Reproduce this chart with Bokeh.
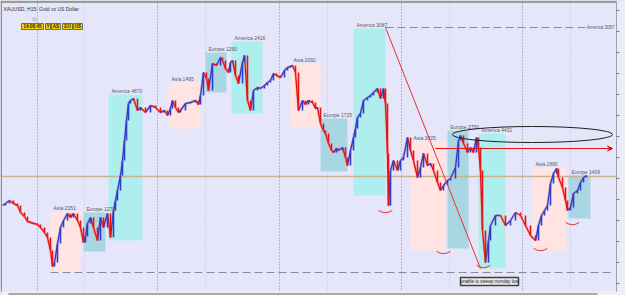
from bokeh.plotting import figure
from bokeh.models import Range1d, ColumnDataSource, Arrow, VeeHead, Label
from bokeh.core.properties import value
from bokeh.embed import file_html
from bokeh.resources import INLINE

# ---- price path (time position, price level) ----
bar_x = [2, 5, 9, 13, 17, 20, 24, 27, 30, 33, 37, 40, 44, 47, 50, 52, 54, 57, 60, 63,
         67, 70, 73, 77, 80, 83, 85, 87, 90, 93, 97, 100, 103, 107, 110, 113, 115, 117, 120, 122,
         124, 126, 128, 130, 133, 137, 140, 145, 150, 155, 160, 164, 167, 170, 172, 175, 178, 180, 185, 190,
         195, 198, 200, 203, 206, 208, 212, 216, 220, 222, 225, 228, 230, 232, 235, 238, 242, 244, 247, 250,
         253, 257, 260, 264, 267, 270, 273, 276, 280, 284, 287, 290, 292, 295, 298, 302, 305, 308, 312, 315,
         317, 320, 323, 325, 328, 331, 333, 336, 338, 342, 345, 347, 350, 353, 355, 357, 360, 363, 367, 370,
         373, 377, 380, 383, 385, 387, 388, 390, 393, 397, 400, 403, 407, 410, 413, 417, 420, 423, 427, 430,
         433, 437, 440, 443, 447, 450, 455, 458, 460, 463, 467, 470, 473, 476, 478, 480, 482, 485, 488, 490,
         495, 500, 505, 510, 515, 520, 525, 530, 535, 538, 541, 544, 547, 550, 553, 556, 558, 562, 565, 567,
         570, 573, 577, 580, 583, 586]
close = [95, 97, 100, 97, 95, 88, 84, 79, 78, 77, 76, 73, 68, 63, 50, 34, 38, 57, 73, 80,
         87, 83, 87, 80, 73, 58, 64, 77, 83, 73, 60, 83, 73, 87, 63, 90, 100, 110, 125, 140,
         160, 180, 197, 200, 202, 190, 193, 188, 195, 193, 188, 190, 185, 192, 200, 193, 188, 190, 197, 198,
         200, 196, 205, 228, 222, 210, 237, 235, 243, 240, 232, 228, 238, 240, 225, 217, 238, 245, 200, 190,
         210, 213, 212, 215, 218, 220, 227, 225, 223, 230, 233, 234, 235, 228, 190, 200, 196, 200, 198, 192,
         193, 177, 170, 167, 157, 150, 148, 152, 150, 153, 143, 135, 150, 163, 172, 183, 187, 200, 203, 205,
         208, 212, 202, 212, 197, 147, 95, 130, 140, 130, 140, 143, 163, 150, 140, 123, 133, 147, 135, 137,
         130, 118, 110, 115, 120, 122, 133, 160, 165, 157, 148, 153, 148, 163, 153, 130, 70, 38, 60, 75,
         85, 85, 75, 80, 88, 85, 75, 65, 60, 75, 85, 90, 95, 117, 127, 132, 123, 113, 100, 90,
         93, 107, 110, 118, 123, 125]

# ---- trading sessions ----
sess_name = ["Asia 2051", "Europe 1270", "America 4870", "Asia 1495", "Europe 1260", "America 2416",
             "Asia 2092", "Europe 1725", "America 3087", "Asia 3825", "Europe 2750", "America 4431",
             "Asia 2880", "Europe 1409"]
sess_start = [50, 83, 108, 168, 205, 231, 290, 320, 353, 410, 447, 478, 532, 568]
sess_end = [80, 105, 142, 200, 226, 262, 320, 347, 385, 445, 468, 505, 566, 590]
sess_high = [89, 88, 206, 218, 248, 259, 237, 182, 272, 159, 170, 167, 133, 125]
sess_low = [28, 49, 60, 172, 208, 187, 173, 129, 105, 50, 52, 32, 50, 82]
sess_kind = ["Asia", "Europe", "America", "Asia", "Europe", "America", "Asia", "Europe", "America",
             "Asia", "Europe", "America", "Asia", "Europe"]

# ---- levels / annotations ----
monday_low = 28
america_high = 273
sweep_level = 152
tan_level = 124
day_sep = [37, 157, 279, 401, 522]
sub_sep = [84, 205, 327, 449, 570]
swing_x = [385, 443, 483, 540, 572]
swing_y = [88, 47, 33, 50, 76]
buttons = ["14:06:45", "Y", "AS", "EU", "US"]
btn_left = [21, 45, 51, 62, 73]
btn_right = [43, 50, 60, 72, 82]

kind_color = {"Asia": "#FFE4E1", "Europe": "#A9D6E3", "America": "#AFEEEE"}

W, H = 625, 295
p = figure(width=W, height=H, output_backend="svg", toolbar_location=None,
           x_range=Range1d(0, W), y_range=Range1d(300 - H, 300),
           min_border=0, min_border_left=0, min_border_right=0, min_border_top=0, min_border_bottom=0)
p.axis.visible = False
p.grid.visible = False
p.outline_line_color = None
p.background_fill_color = "#E6E6FA"
p.border_fill_color = "#E6E6FA"

FONT = value("Liberation Sans")

# vertical separators
for xs in sub_sep:
    p.segment(x0=[xs], y0=[5], x1=[xs], y1=[300], line_color="#C4C4E6", line_width=1, line_dash="1 2")
for xs in day_sep:
    p.segment(x0=[xs], y0=[5], x1=[xs], y1=[300], line_color="#8A8A9A", line_width=1, line_dash="1 2")

# session boxes
p.quad(left=sess_start, right=sess_end, top=sess_high, bottom=sess_low,
       fill_color=[kind_color[k] for k in sess_kind], line_color=None)
p.text(x=[s + 3 for s in sess_start], y=[h + 1 for h in sess_high], text=sess_name,
       text_font=FONT, text_font_size="5px", text_color="#5A5A5A", text_baseline="bottom")

# tan horizontal level
p.segment(x0=[0], y0=[tan_level], x1=[616], y1=[tan_level], line_color="#C8B48C", line_width=1.3)

# candles
sx0, sy0, sx1, sy1, cols = [], [], [], [], []
for i in range(1, len(bar_x)):
    sx0.append(bar_x[i - 1]); sy0.append(close[i - 1])
    sx1.append(bar_x[i]); sy1.append(close[i])
    cols.append("#2A3FD0" if close[i] >= close[i - 1] else "#E81414")
p.line(bar_x, close, line_color="#F0A0A8", line_width=3, line_alpha=0.45)
p.segment(x0=sx0, y0=sy0, x1=sx1, y1=sy1, line_color=cols, line_width=1.4)
p.vbar(x=sx1, top=[max(a, b) for a, b in zip(sy0, sy1)], bottom=[min(a, b) for a, b in zip(sy0, sy1)],
       width=1.6, fill_color=cols, line_color=None)

# levels
p.segment(x0=[50], y0=[monday_low], x1=[612], y1=[monday_low], line_color="#8A8A9A", line_width=1.2, line_dash="8 4")
p.segment(x0=[385], y0=[america_high], x1=[586], y1=[america_high], line_color="#8A8A9A", line_width=1.2, line_dash="8 4")
p.text(x=[614], y=[america_high], text=["America 3087"], text_font=FONT, text_font_size="4.5px",
       text_color="#5A5A5A", text_baseline="middle", text_align="right")

# red diagonal
p.segment(x0=[385], y0=[america_high], x1=[480], y1=[monday_low + 4], line_color="#E83030", line_width=1)

# sweep arrow
p.add_layout(Arrow(end=VeeHead(size=5, line_color="#E81414", line_width=1), x_start=435, y_start=sweep_level,
                   x_end=612, y_end=sweep_level, line_color="#E81414", line_width=1))

# ellipse
p.ellipse(x=[532], y=[166], width=160, height=16, fill_color=None, line_color="#202020", line_width=1)

# swing arcs
p.arc(x=swing_x, y=[sy + 12 for sy in swing_y], radius=12, start_angle=4.1, end_angle=5.32,
      line_color="#E83030", line_width=1)

# text box
p.quad(left=[460], right=[518], top=[23], bottom=[15], fill_color="#E8E8F0", line_color="#404040", line_width=1.5)
p.text(x=[489], y=[19], text=["unable to sweep monday low"], text_font=FONT, text_font_size="4.5px",
       text_color="#202020", text_align="center", text_baseline="middle")

# top chrome
p.quad(left=[0], right=[W], top=[300], bottom=[297.5], fill_color="#9A9AA0", line_color=None)
p.text(x=[3], y=[295], text=["XAUUSD, H15:  Gold vs US Dollar"], text_font=FONT, text_font_size="5px",
       text_color="#303030", text_baseline="top")
p.quad(left=[32], right=[36], top=[283], bottom=[279], fill_color="#C8C8D0", line_color=None)
p.quad(left=btn_left, right=btn_right, top=[277] * 5, bottom=[271] * 5, fill_color="#F2D200",
       line_color="#505050", line_width=0.8)
p.text(x=[(a + b) / 2 for a, b in zip(btn_left, btn_right)], y=[274] * 5, text=buttons, text_font=FONT,
       text_font_size="4.5px", text_color="#202020", text_align="center", text_baseline="middle",
       text_font_style="bold")

# right price strip
p.quad(left=[616], right=[W], top=[300], bottom=[5], fill_color="#ECECF8", line_color=None)
p.segment(x0=[616], y0=[5], x1=[616], y1=[300], line_color="#A0A0A8", line_width=1)
tick_y = list(range(290, 8, -21))
p.segment(x0=[616] * len(tick_y), y0=tick_y, x1=[619] * len(tick_y), y1=tick_y, line_color="#808088", line_width=1)

# left edge and bottom chrome
p.quad(left=[0], right=[1.5], top=[300], bottom=[5], fill_color="#8C8C94", line_color=None)
p.quad(left=[0], right=[W], top=[9], bottom=[5], fill_color="#F0F0F4", line_color=None)
p.segment(x0=[8], y0=[6.5], x1=[597], y1=[6.5], line_color="#A8A8AC", line_width=2)

open("out.html", "w").write(file_html(p, INLINE))
